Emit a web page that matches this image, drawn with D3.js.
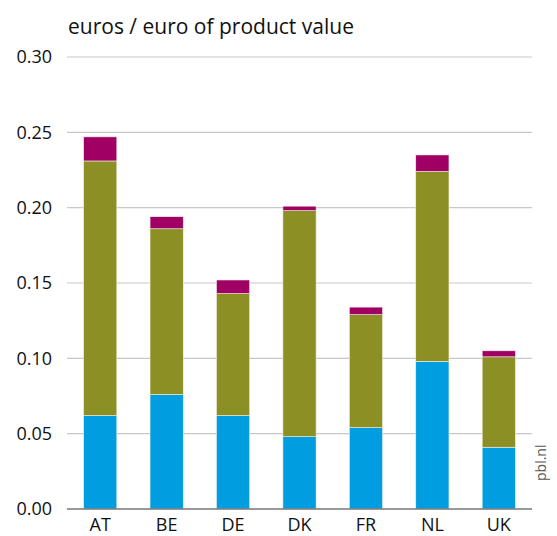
<script src="https://d3js.org/d3.v7.min.js"></script>
<html>
<head>
<style>
  body { margin: 0; background: #fff; }
  text { font-family: "Open Sans", "Noto Sans", sans-serif; }
</style>
</head>
<body>
<script>
// values (euros per euro of product value)
var countries = ["AT", "BE", "DE", "DK", "FR", "NL", "UK"];
var part1 = [0.062, 0.076, 0.062, 0.048, 0.054, 0.098, 0.041];
var part2 = [0.169, 0.110, 0.081, 0.150, 0.075, 0.126, 0.060];
var part3 = [0.016, 0.008, 0.009, 0.003, 0.005, 0.011, 0.004];
var yTicks = [0, 0.05, 0.10, 0.15, 0.20, 0.25, 0.30];
var colors = ["#009ee0", "#8c8f23", "#a00064"];

var width = 557, height = 536;
var margin = ({top: 57, left: 67, right: 25, bottom: 27});

var rows = countries.map(function(c, i){
  return {country: c, p1: part1[i], p2: part2[i], p3: part3[i]};
});
var stack = d3.stack().keys(["p1", "p2", "p3"])(rows);

var svg = d3.select("body").append("svg")
  .attr("width", width)
  .attr("height", height);

var x = d3.scaleBand()
  .domain(countries)
  .range([margin.left, width - margin.right])
  .paddingInner(0.5)
  .paddingOuter(0.25);
var y = d3.scaleLinear()
  .domain([0, 0.30])
  .range([height - margin.bottom, margin.top]);

// gridlines
svg.append("g").selectAll("line")
  .data(yTicks.slice(1))
  .enter().append("line")
  .attr("x1", margin.left)
  .attr("x2", width - margin.right)
  .attr("y1", function(d){ return y(d); })
  .attr("y2", function(d){ return y(d); })
  .attr("stroke", "#c8c8c8")
  .attr("stroke-width", 1.2);

// y labels
svg.append("g").selectAll("text")
  .data(yTicks)
  .enter().append("text")
  .attr("x", 52)
  .attr("y", function(d){ return y(d); })
  .attr("dy", "0.35em")
  .attr("text-anchor", "end")
  .attr("font-size", 18)
  .attr("fill", "#111")
  .text(function(d){ return d3.format(".2f")(d); });

// bars
svg.append("g").selectAll("g")
  .data(stack)
  .enter().append("g")
  .attr("fill", function(d, i){ return colors[i]; })
  .selectAll("rect")
  .data(function(d){ return d; })
  .enter().append("rect")
  .attr("x", function(d){ return x(d.data.country); })
  .attr("width", x.bandwidth())
  .attr("y", function(d){ return y(d[1]); })
  .attr("height", function(d){ return y(d[0]) - y(d[1]); })
  .attr("stroke", "#f4f0e8")
  .attr("stroke-width", 0.6);

// baseline
svg.append("line")
  .attr("x1", margin.left)
  .attr("x2", width - margin.right)
  .attr("y1", y(0))
  .attr("y2", y(0))
  .attr("stroke", "#777")
  .attr("stroke-width", 1.5);

// x labels
svg.append("g").selectAll("text")
  .data(countries)
  .enter().append("text")
  .attr("x", function(d){ return x(d) + x.bandwidth() / 2; })
  .attr("y", 531)
  .attr("text-anchor", "middle")
  .attr("font-size", 18)
  .attr("fill", "#111")
  .text(function(d){ return d; });

// title
svg.append("text")
  .attr("x", 68)
  .attr("y", 34)
  .attr("font-size", 21)
  .attr("fill", "#111")
  .text("euros / euro of product value");

// source
svg.append("text")
  .attr("transform", "translate(546,481) rotate(-90)")
  .attr("font-size", 14)
  .attr("fill", "#555")
  .text("pbl.nl");
</script>
</body>
</html>
